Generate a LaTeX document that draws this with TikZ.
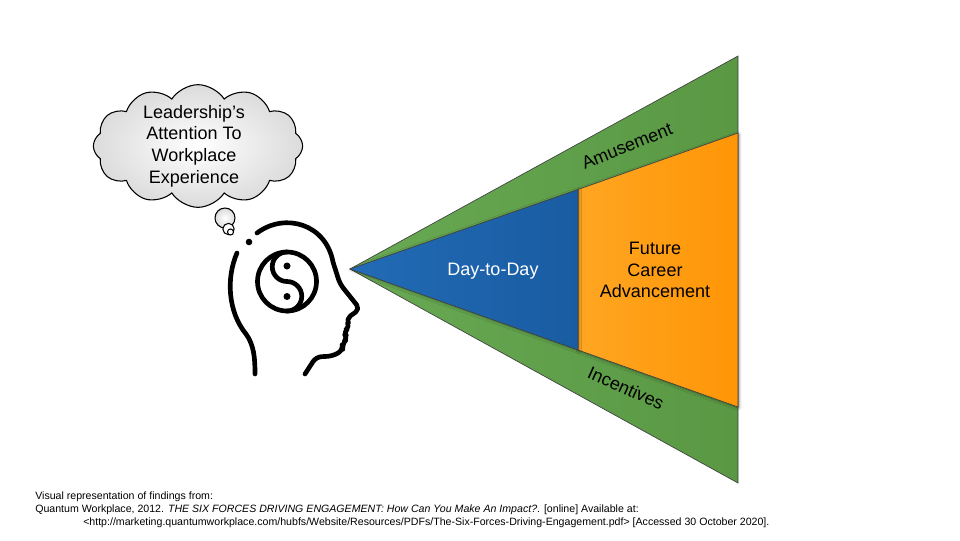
\documentclass[tikz,border=0pt]{standalone}
\usepackage{fontspec}
\setmainfont{Liberation Sans}
\usepackage{tikz}
\usetikzlibrary{shapes.symbols}
\usetikzlibrary{shadows.blur}
\usetikzlibrary{calc}
\definecolor{bandgreen}{HTML}{68A953}
\definecolor{bandgreendark}{HTML}{5A9844}
\definecolor{dayblue}{HTML}{226BB6}
\definecolor{daybluedark}{HTML}{195CA2}
\definecolor{careerorange}{HTML}{FFA622}
\definecolor{careerorangedark}{HTML}{FF9506}
\definecolor{edgegray}{HTML}{404040}
\tikzset{
    band/.style={draw=edgegray, line width=0.5pt, left color=bandgreen, right color=bandgreendark},
    dayblock/.style={draw=edgegray, line width=0.5pt, left color=dayblue, right color=daybluedark,
        blur shadow={shadow xshift=0.6pt, shadow yshift=-0.6pt, shadow blur steps=5, shadow opacity=35}},
    careerblock/.style={draw=edgegray, line width=0.5pt, left color=careerorange, right color=careerorangedark,
        blur shadow={shadow xshift=0.8pt, shadow yshift=-0.8pt, shadow blur steps=6, shadow opacity=40}},
    headline/.style={draw=black, line width=3.5pt, line cap=round, line join=round},
    thought/.style={cloud, cloud puffs=12, cloud puff arc=115, aspect=1.8, draw=black, line width=0.8pt,
        inner color=white, outer color=black!14, minimum width=157pt, minimum height=92pt},
    bubble/.style={circle, draw=black, line width=0.8pt, inner sep=0pt},
    bigtext/.style={font=\fontsize{13.5}{16.3}\selectfont, align=center, inner sep=0pt},
    reftext/.style={font=\fontsize{7.95}{9.4}\selectfont, anchor=west, inner sep=0pt},
}

\begin{document}
\begin{tikzpicture}[x=0.75pt, y=-0.75pt]
\useasboundingbox (0,0) rectangle (960,540);
% wedge
\coordinate (apex) at (350,269);
\coordinate (outerTop) at (738,56);
\coordinate (outerBot) at (738,483);
\coordinate (innerTop) at (738,133);
\coordinate (innerBot) at (738,407);
\coordinate (splitTop) at (578,189.5);
\coordinate (splitBot) at (578,350);
\draw[band] (apex) -- (outerTop) -- (outerBot) -- cycle;
\draw[careerblock] (splitTop) -- (innerTop) -- (innerBot) -- (splitBot) -- cycle;
\draw[dayblock] (apex) -- (splitTop) -- (splitBot) -- cycle;
\node[bigtext, rotate=22] (amusement) at (627,146) {Amusement};
\node[bigtext, rotate=-24] (incentives) at (626,388) {Incentives};
\node[bigtext, text=white] (daytoday) at (493,271) {Day-to-Day};
\node[bigtext] (career) at (655,270) {Future\\Career\\Advancement};
% head
\draw[headline] (237,253) .. controls (226,278) and (228,312) .. (246,334) .. controls (254,345) and (255,358) .. (255,374);
\draw[headline] (257,233) .. controls (285,212) and (326,224) .. (333,262) [rounded corners=4pt] -- (340,284) -- (360,309) -- (346,319) -- (350,327) -- (343,332) -- (348,338) -- (342,344) -- (343,350) -- (333,356) -- (316,357) -- (305,374);
\fill (249,242) circle (3.3);
\draw[headline] (287,281.5) circle (29.5);
\draw[headline] (287,252) arc (270:90:14.75) arc (-90:90:14.75);
\fill (287,266) circle (3.5);
\fill (287,296.5) circle (3.5);
% thought
\node[thought] (cloudbox) at (198,146) {};
\node[bigtext] (attention) at (194,146) {Leadership’s\\Attention To\\Workplace\\Experience};
\node[bubble, minimum size=15pt, inner color=white, outer color=black!14] (bubbleBig) at (225,218) {};
\node[bubble, minimum size=8.5pt, fill=white] (bubbleSmall) at (228.5,229) {};
\node[bubble, minimum size=4.5pt, fill=white] (bubbleTiny) at (230.5,232) {};
% source
\node[reftext] (refA) at (35,497) {Visual representation of findings from:};
\node[reftext] (refB) at (35,510) {Quantum Workplace, 2012. \textit{THE SIX FORCES DRIVING ENGAGEMENT: How Can You Make An Impact?}. [online] Available at:};
\node[reftext] (refC) at (83,523) {<http://marketing.quantumworkplace.com/hubfs/Website/Resources/PDFs/The-Six-Forces-Driving-Engagement.pdf> [Accessed 30 October 2020].};
\end{tikzpicture}
\end{document}
